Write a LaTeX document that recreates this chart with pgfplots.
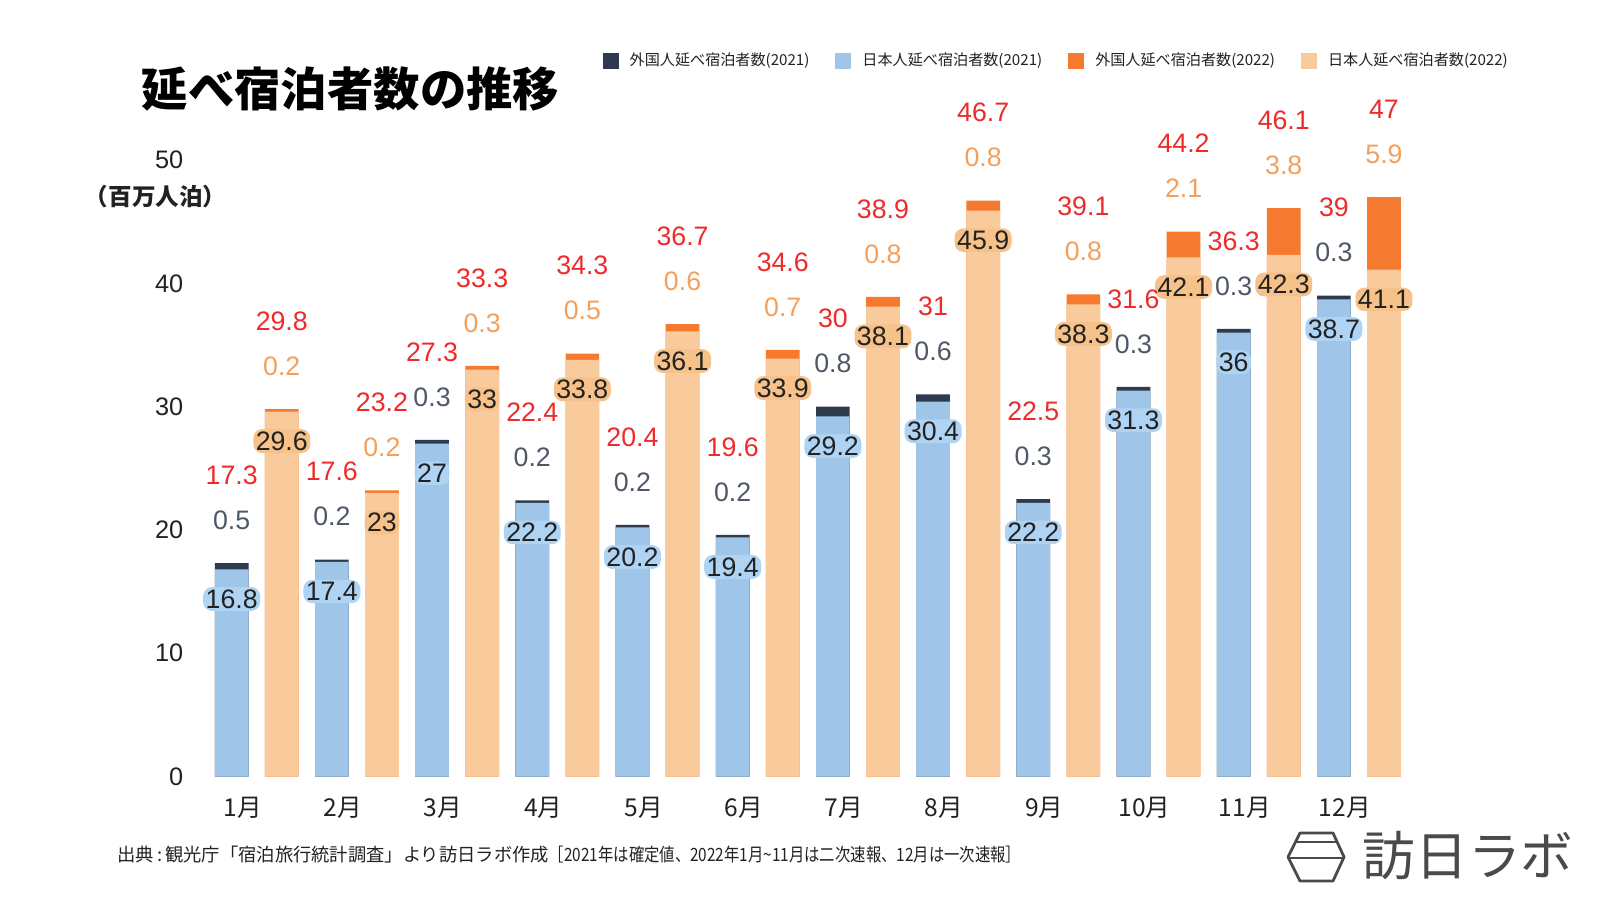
\documentclass[border=0pt]{standalone}
\usepackage{fontspec}
\usepackage{graphicx}
\usepackage{pgfplots}
\pgfplotsset{compat=1.18}
\usepackage{pgfplotstable}
\setmainfont{Liberation Sans}
\newfontfamily\jp{Noto Sans CJK JP}

\definecolor{navy}{HTML}{2E3B4E}
\definecolor{lblue}{HTML}{9FC5E8}
\definecolor{dorange}{HTML}{F57A30}
\definecolor{lorange}{HTML}{F9CB9C}
\definecolor{labred}{HTML}{EE2A2A}
\definecolor{labgray}{HTML}{4F5866}
\definecolor{laborange}{HTML}{F5A05A}
\definecolor{haloblue}{HTML}{AFD3F3}
\definecolor{haloorange}{HTML}{F7C28A}
\definecolor{txt}{HTML}{222222}
\definecolor{logogray}{HTML}{4A4A4A}

% 2021: x = month - 0.25
\pgfplotstableread{
x jp fo tot
0.75 16.8 0.5 17.3
1.75 17.4 0.2 17.6
2.75 27 0.3 27.3
3.75 22.2 0.2 22.4
4.75 20.2 0.2 20.4
5.75 19.4 0.2 19.6
6.75 29.2 0.8 30
7.75 30.4 0.6 31
8.75 22.2 0.3 22.5
9.75 31.3 0.3 31.6
10.75 36 0.3 36.3
11.75 38.7 0.3 39
}\dataA
% 2022: x = month + 0.25
\pgfplotstableread{
x jp fo tot
1.25 29.6 0.2 29.8
2.25 23 0.2 23.2
3.25 33 0.3 33.3
4.25 33.8 0.5 34.3
5.25 36.1 0.6 36.7
6.25 33.9 0.7 34.6
7.25 38.1 0.8 38.9
8.25 45.9 0.8 46.7
9.25 38.3 0.8 39.1
10.25 42.1 2.1 44.2
11.25 42.3 3.8 46.1
12.25 41.1 5.9 47
}\dataB

\begin{document}
\begin{tikzpicture}
\useasboundingbox[fill=white] (0,0) rectangle (16,9);
\begin{axis}[
  at={(1.565cm,1.235cm)}, anchor=south west,
  scale only axis, width=13.026cm, height=6.165cm,
  xmin=0, xmax=13, ymin=0, ymax=50,
  clip=false,
  axis line style={draw=none}, tick style={draw=none},
  ytick={0,10,20,30,40,50},
  /pgf/number format/assume math mode=true,
  yticklabel style={font=\fontsize{7.2}{8}\selectfont, text=txt, anchor=east, inner sep=0pt, xshift=2.75mm},
  xtick={0.86,1.86,2.86,3.86,4.86,5.86,6.86,7.86,8.86,9.86,10.86,11.86},
  xticklabels={1月,2月,3月,4月,5月,6月,7月,8月,9月,10月,11月,12月},
  xticklabel style={font=\jp\fontsize{7}{8}\selectfont, text=txt, anchor=center, inner sep=0pt, yshift=-1.65mm},
  ybar, bar width=3.37mm, bar shift=0pt,
  point meta=explicit symbolic,
  nodes near coords,
  nodes near coords style={font=\fontsize{7.6}{8}\selectfont, anchor=center},
  legend image code/.code={\path[#1, draw=none] (0mm,-0.8mm) rectangle (1.6mm,0.8mm);},
  legend style={at={(0.342,1.160)}, anchor=west, draw=none, fill=none,
    inner sep=0pt, font=\jp\fontsize{4.3}{5}\selectfont, text=txt,
    nodes={inner sep=0pt},
    /tikz/every odd column/.append style={column sep=1.1mm},
    /tikz/every even column/.append style={column sep=2.6mm}},
  legend columns=4,
]
% 2021 foreign (stacked on top of Japanese; drawn as total height)
\addplot[fill=navy, draw=none, nodes near coords style={text=labgray, yshift=4.3mm}]
  table[x=x, y=tot, meta=fo]{\dataA};
\addlegendentry{外国人延べ宿泊者数(2021)}
\addplot[fill=lblue, draw=none, nodes near coords style={text=txt, fill=haloblue, rounded corners=2.5pt, inner sep=0.7pt, yshift=-2.96mm}]
  table[x=x, y=jp, meta=jp]{\dataA};
\addlegendentry{日本人延べ宿泊者数(2021)}
\addplot[fill=dorange, draw=none, nodes near coords style={text=laborange, yshift=4.3mm}]
  table[x=x, y=tot, meta=fo]{\dataB};
\addlegendentry{外国人延べ宿泊者数(2022)}
\addplot[fill=lorange, draw=none, nodes near coords style={text=txt, fill=haloorange, rounded corners=2.5pt, inner sep=0.7pt, yshift=-2.96mm}]
  table[x=x, y=jp, meta=jp]{\dataB};
\addlegendentry{日本人延べ宿泊者数(2022)}
% totals (red labels)
\addplot[forget plot, draw=none, fill=none, nodes near coords style={text=labred, yshift=8.8mm}]
  table[x=x, y=tot, meta=tot]{\dataA};
\addplot[forget plot, draw=none, fill=none, nodes near coords style={text=labred, yshift=8.8mm}]
  table[x=x, y=tot, meta=tot]{\dataB};
\end{axis}

% title and unit
\node[anchor=west, inner sep=0pt, text=black] at (1.41,8.11) {\jp\bfseries\fontsize{13.2}{14}\selectfont 延べ宿泊者数の推移};
\node[inner sep=0pt, text=txt] at (1.556,7.03) {\jp\bfseries\fontsize{6.7}{7}\selectfont （百万人泊）};

% source
\node[anchor=west, inner sep=0pt, text=txt] at (1.17,0.45) {\jp\fontsize{5.2}{6}\selectfont 出典\,:\,観光庁「宿泊旅行統計調査」より訪日ラボ作成\scalebox{0.84}[1]{［2021年は確定値、2022年1月\textasciitilde 11月は二次速報、12月は一次速報］}};

% logo
\begin{scope}[line width=0.28mm, draw=logogray, line join=round]
\draw (12.88,0.43) -- (13.00,0.67) -- (13.33,0.67) -- (13.44,0.43) -- (13.33,0.19) -- (13.00,0.19) -- cycle;
\draw (12.955,0.58) -- (13.371,0.58);
\draw (12.88,0.42) -- (13.44,0.42);
\end{scope}
\node[anchor=west, inner sep=0pt, text=logogray] at (13.62,0.44) {\jp\fontsize{15}{16}\selectfont 訪日ラボ};
\end{tikzpicture}
\end{document}
